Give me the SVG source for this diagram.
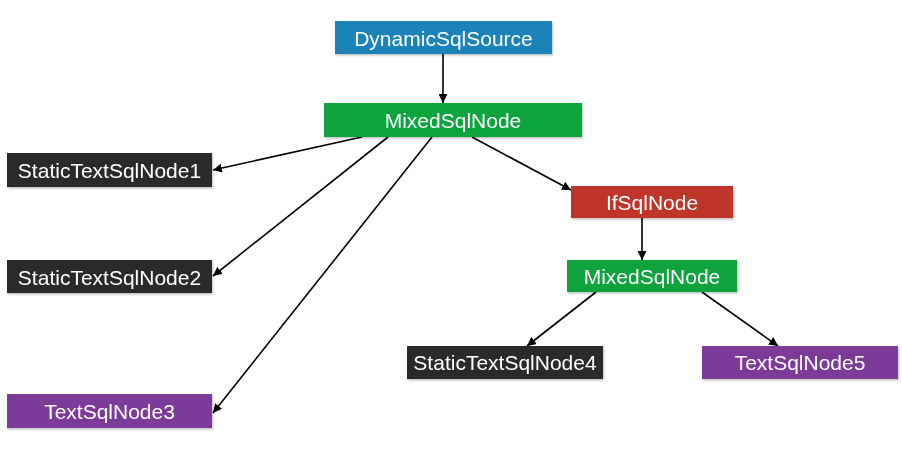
<svg xmlns="http://www.w3.org/2000/svg" width="902" height="472" viewBox="0 0 902 472">
<defs>
<style>
.lbl{font-family:"Helvetica Neue","Liberation Sans",Arial,sans-serif;font-size:21px;font-weight:300;fill:#ffffff;text-anchor:middle}
.edge{stroke:#000;stroke-width:1.6;fill:none;marker-end:url(#ah)}
.blue{fill:#1d83b8}.green{fill:#0ba33c}.dark{fill:#2c2c2c}.purple{fill:#7b3b99}.red{fill:#c0342a}
</style>
<marker id="ah" viewBox="0 0 10 10" refX="10" refY="5" markerWidth="9" markerHeight="9" markerUnits="userSpaceOnUse" orient="auto">
<path d="M0,0 L10,5 L0,10 Z" fill="#000"/>
</marker>
<filter id="sh" x="-5%" y="-10%" width="110%" height="130%">
<feDropShadow dx="1" dy="1.5" stdDeviation="1" flood-color="#000" flood-opacity="0.25"/>
</filter>
</defs>
<rect width="902" height="472" fill="#ffffff"/>
<g id="connectors">
<line class="edge" x1="443" y1="54" x2="443" y2="103"/>
<line class="edge" x1="362" y1="137" x2="213" y2="170"/>
<line class="edge" x1="388" y1="137" x2="213" y2="276"/>
<line class="edge" x1="432" y1="137" x2="213" y2="413"/>
<line class="edge" x1="472" y1="137" x2="571" y2="190"/>
<line class="edge" x1="642" y1="218" x2="642" y2="260"/>
<line class="edge" x1="596" y1="292" x2="527" y2="346"/>
<line class="edge" x1="702" y1="292" x2="778" y2="346"/>
</g>
<g id="DynamicSqlSource" filter="url(#sh)"><rect class="blue" x="335" y="21" width="217" height="33"/><text class="lbl" x="443.5" y="46">DynamicSqlSource</text></g>
<g id="MixedSqlNode1" filter="url(#sh)"><rect class="green" x="324" y="103" width="258" height="34"/><text class="lbl" x="453" y="128">MixedSqlNode</text></g>
<g id="StaticTextSqlNode1" filter="url(#sh)"><rect class="dark" x="7" y="153" width="205" height="34"/><text class="lbl" x="109.5" y="178">StaticTextSqlNode1</text></g>
<g id="StaticTextSqlNode2" filter="url(#sh)"><rect class="dark" x="7" y="260" width="205" height="33"/><text class="lbl" x="109.5" y="285">StaticTextSqlNode2</text></g>
<g id="TextSqlNode3" filter="url(#sh)"><rect class="purple" x="7" y="394" width="205" height="34"/><text class="lbl" x="109.5" y="419">TextSqlNode3</text></g>
<g id="IfSqlNode" filter="url(#sh)"><rect class="red" x="571" y="186" width="162" height="32"/><text class="lbl" x="652" y="210">IfSqlNode</text></g>
<g id="MixedSqlNode2" filter="url(#sh)"><rect class="green" x="567" y="260" width="170" height="32"/><text class="lbl" x="652" y="284">MixedSqlNode</text></g>
<g id="StaticTextSqlNode4" filter="url(#sh)"><rect class="dark" x="407" y="346" width="196" height="33"/><text class="lbl" x="505" y="370">StaticTextSqlNode4</text></g>
<g id="TextSqlNode5" filter="url(#sh)"><rect class="purple" x="702" y="346" width="196" height="33"/><text class="lbl" x="800" y="370">TextSqlNode5</text></g>
</svg>
